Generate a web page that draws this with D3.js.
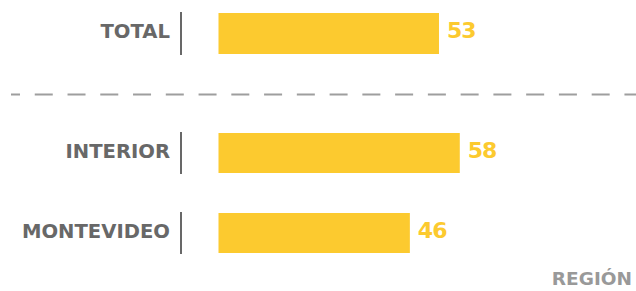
<!DOCTYPE html>
<html>
<head>
<meta charset="utf-8">
<script src="https://cdn.jsdelivr.net/npm/d3@7"></script>
<style>
  body { margin: 0; background: #fff; }
  svg text { font-family: "DejaVu Sans", sans-serif; font-weight: bold; }
</style>
</head>
<body>
<svg id="chart"></svg>
<script>
// data
var totalCats = ["TOTAL"];
var totalVals = [53];
var regionCats = ["INTERIOR", "MONTEVIDEO"];
var regionVals = [58, 46];
var groupTitle = "REGIÓN";

var width = 636, height = 291;
var barColor = "#fcca2f", labelColor = "#686868";

var svg = d3.select("#chart").attr("width", width).attr("height", height);

// shared value scale
var x = d3.scaleLinear().domain([0, 100]).range([218.5, 634.5]);

// one band scale for each panel
var yTotal = d3.scaleBand().domain(totalCats).range([13, 54]);
var yRegion = d3.scaleBand().domain(regionCats).range([113, 273])
  .paddingInner(0.5).paddingOuter(0.25);

function drawPanel(cats, vals, y) {
  var rows = cats.map((c, i) => ({ cat: c, val: vals[i] }));
  var g = svg.append("g");

  // left axis, one segment per bar
  g.selectAll("line.tick")
    .data(rows)
    .enter()
    .append("line")
    .attr("x1", 181).attr("x2", 181)
    .attr("y1", (d) => y(d.cat) - 1)
    .attr("y2", (d) => y(d.cat) + y.bandwidth() + 1)
    .style("stroke", labelColor)
    .style("stroke-width", 2);

  g.selectAll("text.cat")
    .data(rows)
    .enter()
    .append("text")
    .attr("x", 170)
    .attr("y", (d) => y(d.cat) + y.bandwidth() / 2 - 2.5)
    .attr("dy", "0.36em")
    .style("text-anchor", "end")
    .style("font-size", "19.6px")
    .style("fill", labelColor)
    .text((d) => d.cat);

  g.selectAll("rect")
    .data(rows)
    .enter()
    .append("rect")
    .attr("x", x(0))
    .attr("y", (d) => y(d.cat))
    .attr("width", (d) => x(d.val) - x(0))
    .attr("height", y.bandwidth())
    .style("fill", barColor);

  g.selectAll("text.val")
    .data(rows)
    .enter()
    .append("text")
    .attr("x", (d) => x(d.val) + 8)
    .attr("y", (d) => y(d.cat) + y.bandwidth() / 2 - 3)
    .attr("dy", "0.36em")
    .style("font-size", "22px")
    .style("letter-spacing", "-1px")
    .style("fill", barColor)
    .text((d) => d.val);
}

drawPanel(totalCats, totalVals, yTotal);
drawPanel(regionCats, regionVals, yRegion);

// dashed separator between total and regions
svg.append("line")
  .attr("x1", 11).attr("x2", width)
  .attr("y1", 94.5).attr("y2", 94.5)
  .style("stroke", "#9e9e9e")
  .style("stroke-width", 2)
  .style("stroke-dasharray", "18 14.76")
  .style("stroke-dashoffset", 9);

svg.append("text")
  .attr("x", 632)
  .attr("y", 285)
  .style("text-anchor", "end")
  .style("font-size", "18.5px")
  .style("fill", "#999999")
  .text(groupTitle);
</script>
</body>
</html>
